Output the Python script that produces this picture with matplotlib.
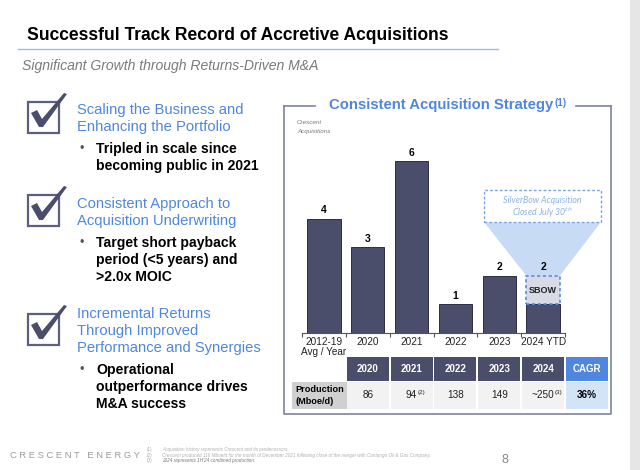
import matplotlib
matplotlib.use("Agg")
import matplotlib.pyplot as plt
from matplotlib.patches import Rectangle, Polygon
from matplotlib.lines import Line2D

plt.rcParams['font.family'] = ['Liberation Sans', 'DejaVu Sans']

# ---------------- data ----------------
categories = ['2012-19\nAvg / Year', '2020', '2021', '2022', '2023', '2024 YTD']
acquisitions = [4, 3, 6, 1, 2, 2]
sbow_part = [0, 0, 0, 0, 0, 1]

table_years = ['2020', '2021', '2022', '2023', '2024']
production = ['86', '94', '138', '149', '~250']
prod_notes = ['', '(2)', '', '', '(3)']
cagr_value = '36%'

headings = [
    ['Scaling the Business and', 'Enhancing the Portfolio'],
    ['Consistent Approach to', 'Acquisition Underwriting'],
    ['Incremental Returns', 'Through Improved', 'Performance and Synergies'],
]
bullets = [
    ['Tripled in scale since', 'becoming public in 2021'],
    ['Target short payback', 'period (<5 years) and', '>2.0x MOIC'],
    ['Operational', 'outperformance drives', 'M&A success'],
]
footnotes = [
    ('(1)', 'Acquisition history represents Crescent and its predecessors.'),
    ('(2)', 'Crescent produced 116 Mboe/d for the month of December 2021 following close of the merger with Contango Oil & Gas Company.'),
    ('(3)', '2024 represents 1H\'24 combined production.'),
]

NAVY = '#4a4e6a'
BLUE = '#4f86df'
LBLUE = '#d4e4f8'
FRAME = '#7f849e'

fig = plt.figure(figsize=(6.4, 4.7), dpi=100)
ax = fig.add_axes([0, 0, 1, 1])
ax.set_xlim(0, 640)
ax.set_ylim(470, 0)
ax.axis('off')
renderer = fig.canvas.get_renderer()


def fit_text(x, y, s, width, size, **kw):
    t = ax.text(x, y, s, fontsize=size, **kw)
    w = t.get_window_extent(renderer).width
    t.set_fontsize(size * width / w)
    return t


# right gray strip
ax.add_patch(Rectangle((630, 0), 10, 470, color='#e6e6e6', lw=0))

# title
fit_text(27, 35, 'Successful Track Record of Accretive Acquisitions', 425, 14,
         fontweight='bold', va='center', ha='left', color='black')
ax.add_line(Line2D([18, 498], [49, 49], color='#9dbbe6', lw=1))
fit_text(22, 66, 'Significant Growth through Returns-Driven M&A', 298, 10,
         style='italic', color='#7a7a7a', va='center', ha='left')


def checkbox(x0, y0):
    ax.add_patch(Rectangle((x0, y0), 31, 31, fill=False, ec='#5c6080', lw=1.6))
    pts = [(x0 + 3, y0 + 11), (x0 + 9, y0 + 8), (x0 + 14, y0 + 17),
           (x0 + 36, y0 - 9), (x0 + 39, y0 - 8), (x0 + 15, y0 + 25), (x0 + 11, y0 + 25)]
    ax.add_patch(Polygon(pts, closed=True, color=NAVY, lw=0))


box_tops = [102, 195, 314]
head_y0 = [110, 204, 314]
bullet_y0 = [149, 243, 370]
for i in range(3):
    checkbox(28, box_tops[i])
    for j, line in enumerate(headings[i]):
        ax.text(77, head_y0[i] + j * 16.8, line, fontsize=10.6, color=BLUE,
                va='center', ha='left')
    ax.text(79, bullet_y0[i], '•', fontsize=9, color='#555555', va='center', ha='left')
    for j, line in enumerate(bullets[i]):
        ax.text(96, bullet_y0[i] + j * 16.8, line, fontsize=10.1, fontweight='bold',
                color='black', va='center', ha='left')

# footer
fit_text(10, 456, 'C R E S C E N T   E N E R G Y', 130, 7.5, color='#9a9a9a',
         va='center', ha='left')
for k, (mk, txt) in enumerate(footnotes):
    ax.text(147, 449.5 + k * 5.6, mk, fontsize=3.3, color='#aaaaaa', va='center', ha='left')
    ax.text(162, 449.5 + k * 5.6, txt, fontsize=3.3, style='italic',
            color='#b0b0b0' if k < 2 else '#777777', va='center', ha='left')
ax.text(505, 460, '8', fontsize=9, color='#888888', va='center', ha='center')

# ---------------- right panel frame ----------------
fx0, fx1, fy0, fy1 = 284, 611, 105.5, 414
ax.add_line(Line2D([fx0, 315], [fy0, fy0], color=FRAME, lw=1.2))
ax.add_line(Line2D([576, fx1], [fy0, fy0], color=FRAME, lw=1.2))
ax.add_line(Line2D([fx0, fx0, fx1, fx1], [fy0, fy1, fy1, fy0], color=FRAME, lw=1.2))
t = fit_text(329, fy0, 'Consistent Acquisition Strategy', 226, 11.5, fontweight='bold',
             color=BLUE, va='center', ha='left')
bb = t.get_window_extent(renderer)
ax.text(bb.x1 + 1, fy0 - 3, '(1)', fontsize=7, fontweight='bold', color=BLUE,
        va='center', ha='left')
ax.text(297, 122, 'Crescent', fontsize=4.5, style='italic', color='#777777', va='center')
ax.text(297, 131, 'Acquisitions', fontsize=4.5, style='italic', color='#777777', va='center')

# ---------------- bar chart ----------------
bx0, bx1, base, top = 302, 565, 333, 333 - 28.6 * 7
bax = fig.add_axes([bx0 / 640, (470 - base) / 470, (bx1 - bx0) / 640, (base - top) / 470])
bax.set_xlim(-0.5, 5.5)
bax.set_ylim(0, 7)
bax.patch.set_alpha(0)
for s in ['top', 'left', 'right']:
    bax.spines[s].set_visible(False)
bax.spines['bottom'].set_color('#555555')
bax.spines['bottom'].set_linewidth(0.8)
bax.set_yticks([])
xs = list(range(len(categories)))
base_part = [a - s for a, s in zip(acquisitions, sbow_part)]
bax.bar(xs, base_part, width=0.76, color=NAVY, edgecolor='#2c2f44', lw=0.7, zorder=2)
for x, a, s in zip(xs, acquisitions, sbow_part):
    if s > 0:
        bax.bar(x, s, bottom=a - s, width=0.76, color='#d8dae5', edgecolor='#5b8ee6',
                lw=1.2, ls=(0, (2, 1.5)), zorder=3)
        bax.text(x, a - s / 2, 'SBOW', fontsize=6.5, fontweight='bold', ha='center',
                 va='center', color='#222222', zorder=4)
    bax.text(x, a + 0.3, str(a), fontsize=7.5, fontweight='bold', ha='center',
             va='center', color='black')
bax.set_xticks(xs)
bax.set_xticklabels(categories, fontsize=7.2, color='#222222', linespacing=1.0)
bax.tick_params(axis='x', length=0, pad=3)
bax.set_xticks([x - 0.5 for x in range(len(categories) + 1)], minor=True)
bax.tick_params(axis='x', which='minor', length=3, color='#555555', width=0.8)

# callout for SBOW
last = len(categories) - 1
px = (bx1 - bx0) / 6.0
def to_d(xpix, ypix):
    return (xpix - bx0) / px - 0.5, (base - ypix) / 28.6
cx0, cy_bot = to_d(484, 222)
cx1, cy_top = to_d(601, 190)
trap = Polygon([(cx0, cy_bot), (cx1, cy_bot),
                (last + 0.38, acquisitions[last]), (last - 0.38, acquisitions[last])],
               closed=True, color='#c8dbf5', lw=0, clip_on=False, zorder=1)
bax.add_patch(trap)
bax.add_patch(Rectangle((cx0, cy_bot), cx1 - cx0, cy_top - cy_bot, facecolor='white',
                        edgecolor='#7ba4e8', lw=1.0, ls=(0, (2, 1.5)), clip_on=False, zorder=2))
bax.text((cx0 + cx1) / 2, cy_bot + (cy_top - cy_bot) * 0.68, 'SilverBow Acquisition',
         fontsize=6.3, style='italic', color='#8db0e6', ha='center', va='center',
         family=['Lato', 'Liberation Sans'], clip_on=False)
bax.text((cx0 + cx1) / 2, cy_bot + (cy_top - cy_bot) * 0.3, 'Closed July 30$^{th}$',
         fontsize=6.3, style='italic', color='#8db0e6', ha='center', va='center',
         family=['Lato', 'Liberation Sans'], clip_on=False)

# ---------------- table ----------------
col_centers = [bx0 + (i + 0.5) * px for i in range(1, 7)]
cw = 42
hy0, hy1, ry1 = 357, 382, 409
for i, yr in enumerate(table_years + ['CAGR']):
    cx = col_centers[i]
    ax.add_patch(Rectangle((cx - cw / 2, hy0), cw, hy1 - hy0 - 1,
                           color=BLUE if yr == 'CAGR' else NAVY, lw=0))
    ax.text(cx, (hy0 + hy1) / 2, yr, fontsize=7, fontweight='bold', color='white',
            ha='center', va='center')
    ax.add_patch(Rectangle((cx - cw / 2, hy1), cw, ry1 - hy1,
                           color=LBLUE if yr == 'CAGR' else '#f2f2f2', lw=0))
ax.add_patch(Rectangle((292, hy1), 55, ry1 - hy1, color='#d0d0d0', lw=0))
ax.text(295, 389, 'Production', fontsize=6.6, fontweight='bold', ha='left', va='center')
ax.text(295, 401, '(Mboe/d)', fontsize=6.6, fontweight='bold', ha='left', va='center')
for i, (v, n) in enumerate(zip(production, prod_notes)):
    cx = col_centers[i]
    tt = ax.text(cx, (hy1 + ry1) / 2, v, fontsize=7.2, ha='center', va='center', color='#222222')
    if n:
        b = tt.get_window_extent(renderer)
        ax.text(b.x1 + 0.5, (hy1 + ry1) / 2 - 3, n, fontsize=4.5, ha='left', va='center',
                color='#222222')
ax.text(col_centers[5], (hy1 + ry1) / 2, cagr_value, fontsize=7.2, fontweight='bold',
        ha='center', va='center', color='black')

fig.savefig('out.png', dpi=100)
